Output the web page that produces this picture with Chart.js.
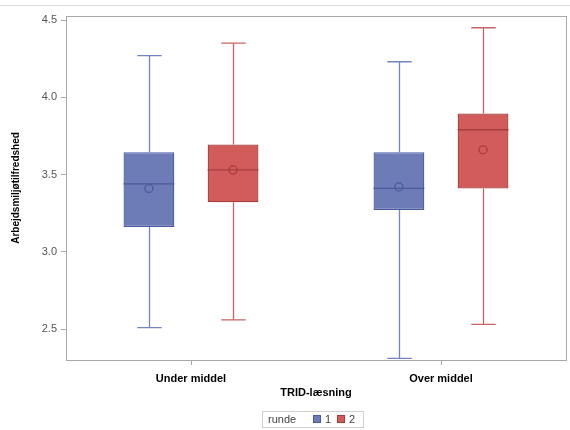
<!DOCTYPE html>
<html>
<head>
<meta charset="utf-8">
<script src="https://cdn.jsdelivr.net/npm/chart.js@4"></script>
<style>
  body { margin: 0; background: #fff; }
</style>
</head>
<body>
<canvas id="chart" width="570" height="430"></canvas>
<script>
// TRID-læsning groups
var categories = ['Under middel', 'Over middel'];
var yTicks = [2.5, 3.0, 3.5, 4.0, 4.5];
var legendTitle = 'runde';

// runde 1
var r1Min = [2.51, 2.31];
var r1Q1 = [3.16, 3.27];
var r1Median = [3.44, 3.41];
var r1Q3 = [3.645, 3.645];
var r1Max = [4.27, 4.23];
var r1Mean = [3.41, 3.42];

// runde 2
var r2Min = [2.56, 2.53];
var r2Q1 = [3.32, 3.41];
var r2Median = [3.53, 3.79];
var r2Q3 = [3.695, 3.895];
var r2Max = [4.35, 4.45];
var r2Mean = [3.53, 3.66];

var stats = [
    { min: r1Min, median: r1Median, max: r1Max, mean: r1Mean, q1: r1Q1, q3: r1Q3,
      whisker: '#7383c2', line: '#4a5a9c' },
    { min: r2Min, median: r2Median, max: r2Max, mean: r2Mean, q1: r2Q1, q3: r2Q3,
      whisker: '#c86464', line: '#a63c3c' },
];

function boxData(q1, q3) {
    return q1.map(function (v, i) { return [v, q3[i]]; });
}

var boxPlotPlugin = {
    id: 'boxPlot',
    beforeDatasetsDraw: function (chart) {
        var ctx = chart.ctx;
        var y = chart.scales.y;
        ctx.save();
        stats.forEach(function (s, d) {
            var meta = chart.getDatasetMeta(d);
            meta.data.forEach(function (bar, i) {
                var x = Math.round(bar.x) + 0.5;
                var cap = bar.width * 0.24;
                ctx.strokeStyle = s.whisker;
                ctx.lineWidth = 1.3;
                ctx.beginPath();
                ctx.moveTo(x, y.getPixelForValue(s.q3[i]));
                ctx.lineTo(x, y.getPixelForValue(s.max[i]));
                ctx.moveTo(x, y.getPixelForValue(s.q1[i]));
                ctx.lineTo(x, y.getPixelForValue(s.min[i]));
                ctx.moveTo(x - cap, y.getPixelForValue(s.max[i]));
                ctx.lineTo(x + cap, y.getPixelForValue(s.max[i]));
                ctx.moveTo(x - cap, y.getPixelForValue(s.min[i]));
                ctx.lineTo(x + cap, y.getPixelForValue(s.min[i]));
                ctx.stroke();
            });
        });
        ctx.restore();
    },
    afterDatasetsDraw: function (chart) {
        var ctx = chart.ctx;
        var y = chart.scales.y;
        ctx.save();
        stats.forEach(function (s, d) {
            var meta = chart.getDatasetMeta(d);
            meta.data.forEach(function (bar, i) {
                var half = bar.width / 2;
                ctx.strokeStyle = s.line;
                ctx.lineWidth = 1.3;
                var ym = y.getPixelForValue(s.median[i]);
                ctx.beginPath();
                ctx.moveTo(bar.x - half, ym);
                ctx.lineTo(bar.x + half, ym);
                ctx.stroke();
                ctx.beginPath();
                ctx.arc(bar.x, y.getPixelForValue(s.mean[i]), 4, 0, Math.PI * 2);
                ctx.stroke();
            });
        });
        ctx.restore();
    },
    afterDraw: function (chart) {
        var ctx = chart.ctx;
        var a = chart.chartArea;
        ctx.save();
        // thin line along the top of the picture
        ctx.strokeStyle = '#dcdcdc';
        ctx.lineWidth = 1;
        ctx.beginPath();
        ctx.moveTo(0, 5.5);
        ctx.lineTo(570, 5.5);
        ctx.stroke();
        // plot frame
        ctx.strokeStyle = '#a8a8a8';
        ctx.strokeRect(Math.round(a.left) + 0.5, Math.round(a.top) + 0.5,
            Math.round(a.right - a.left), Math.round(a.bottom - a.top));

        // legend: title then one swatch per dataset, inside a thin box
        var lx = 262, ly = 411, lw = 101, lh = 16;
        ctx.strokeStyle = '#d0d0d0';
        ctx.strokeRect(lx + 0.5, ly + 0.5, lw, lh);
        ctx.font = '11px Arial, "Liberation Sans", sans-serif';
        ctx.textBaseline = 'middle';
        ctx.textAlign = 'left';
        ctx.fillStyle = '#444';
        ctx.fillText(legendTitle, 268, ly + lh / 2 + 1);
        var sx = 313;
        chart.data.datasets.forEach(function (ds) {
            ctx.fillStyle = ds.backgroundColor;
            ctx.fillRect(sx, ly + 4, 8, 8);
            ctx.strokeStyle = ds.borderColor;
            ctx.strokeRect(sx + 0.5, ly + 4.5, 7, 7);
            ctx.fillStyle = '#444';
            ctx.fillText(ds.label, sx + 12, ly + lh / 2 + 1);
            sx += 24;
        });
        ctx.restore();
    }
};

var chart = new Chart(document.getElementById('chart'), {
    type: 'bar',
    data: {
        labels: categories,
        datasets: [{
            label: '1',
            data: boxData(r1Q1, r1Q3),
            backgroundColor: '#6d7cb7',
            borderColor: '#4a5a9c',
            borderWidth: 1.3,
            borderSkipped: false,
            categoryPercentage: 0.673,
            barPercentage: 0.604,
        }, {
            label: '2',
            data: boxData(r2Q1, r2Q3),
            backgroundColor: '#d25b5b',
            borderColor: '#a63c3c',
            borderWidth: 1.3,
            borderSkipped: false,
            categoryPercentage: 0.673,
            barPercentage: 0.604,
        }]
    },
    options: {
        responsive: false,
        animation: false,
        layout: { padding: { left: 10, right: 4, top: 16, bottom: 30 } },
        plugins: {
            legend: { display: false },
            tooltip: { enabled: false },
        },
        scales: {
            x: {
                grid: { display: true, drawOnChartArea: false, offset: false,
                        tickLength: 5, color: '#a8a8a8' },
                border: { color: '#a8a8a8' },
                ticks: {
                    color: '#000',
                    padding: 7,
                    font: { family: 'Arial, "Liberation Sans", sans-serif', size: 11, weight: 'bold' },
                },
                title: {
                    display: true,
                    text: 'TRID-læsning',
                    color: '#000',
                    padding: { top: 0, bottom: 0 },
                    font: { family: 'Arial, "Liberation Sans", sans-serif', size: 11, weight: 'bold' },
                },
                afterFit: function (axis) { axis.height = 40; },
            },
            y: {
                min: 2.3,
                max: 4.526,
                afterBuildTicks: function (axis) {
                    axis.ticks = yTicks.map(function (v) { return { value: v }; });
                },
                grid: { display: true, drawOnChartArea: false, tickLength: 5, color: '#a8a8a8' },
                border: { color: '#a8a8a8' },
                ticks: {
                    color: '#555',
                    padding: 4,
                    font: { family: 'Arial, "Liberation Sans", sans-serif', size: 11 },
                    callback: function (v) { return Number(v).toFixed(1); },
                },
                title: {
                    display: true,
                    text: 'Arbejdsmiljøtilfredshed',
                    color: '#000',
                    padding: { top: 0, bottom: 0 },
                    font: { family: 'Arial, "Liberation Sans", sans-serif', size: 10, weight: 'bold' },
                },
                afterFit: function (axis) { axis.width = 56; },
            }
        }
    },
    plugins: [boxPlotPlugin]
});
</script>
</body>
</html>
